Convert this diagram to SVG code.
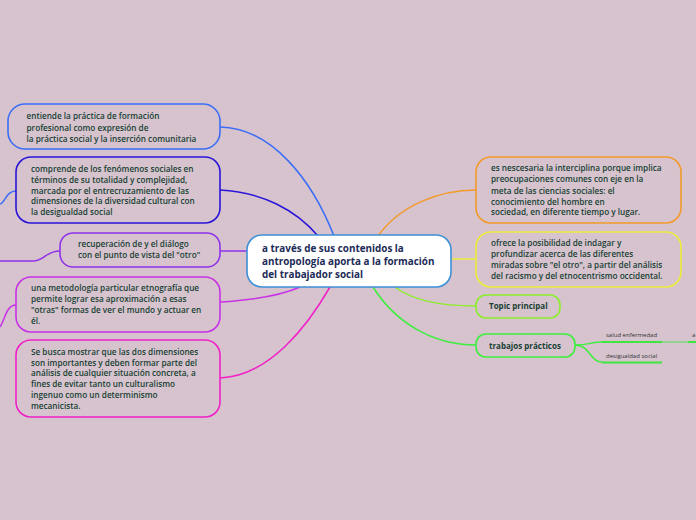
<svg xmlns="http://www.w3.org/2000/svg" width="696" height="520" viewBox="0 0 696 520">
<style>
.bg{fill:#d6c3ce}
.box{fill:none;stroke-width:1.6}
.t{font-family:"Open Sans","Noto Sans",sans-serif;font-weight:600;font-size:8.2px;fill:#163f32}
.b{font-weight:700;font-size:8px}
.c{font-family:"Open Sans","Noto Sans",sans-serif;font-weight:700;font-size:9.9px;fill:#1c2b57}
.s{font-family:"Open Sans","Noto Sans",sans-serif;font-size:6px;fill:#333}
.ln{fill:none;stroke-width:1.5}
</style>
<rect class="bg" x="0" y="0" width="696" height="520"/>
<g id="connectors">
<path class="ln" stroke="#3d6ef5" d="M220,127 C272,128 312,180 334,236"/>
<path class="ln" stroke="#2b14d9" d="M220,190 C262,192 296,210 318,236"/>
<path class="ln" stroke="#9033e8" d="M220,251 L247,251"/>
<path class="ln" stroke="#c832e6" d="M220,302 C252,300 280,296 300,287"/>
<path class="ln" stroke="#f021c8" d="M220,378 C270,376 308,325 330,287"/>
<path class="ln" stroke="#f39a2b" d="M378,236 C400,205 440,190 476,190"/>
<path class="ln" stroke="#ecec3a" d="M451,259 L476,259"/>
<path class="ln" stroke="#8cee2a" d="M395,287 C412,300 442,306 476,306"/>
<path class="ln" stroke="#3eee3e" d="M373,287 C395,322 432,345 476,345"/>
<path class="ln" stroke="#3eee3e" d="M575,345 C590,345 590,342 602,342"/>
<path class="ln" stroke="#3eee3e" d="M575,345 C590,345 590,362 602,362"/>
<path class="ln" stroke="#7fd67f" stroke-width="1" d="M662,342 L688,342"/>
<path class="ln" stroke="#3d6ef5" stroke-width="1" d="M16,191 C6,191 5,203 0,204"/>
<path class="ln" stroke="#9033e8" stroke-width="1" d="M0,261 L33,261 C45,261 45,251 60,251"/>
<path class="ln" stroke="#c832e6" stroke-width="1" d="M16,305 C6,305 5,320 0,327"/>
</g>
<g id="center">
<rect x="247" y="235" width="204" height="52" rx="15" fill="#ffffff" stroke="#3d8fd6" stroke-width="1.6"/>
<text class="c"><tspan x="262" y="252">a través de sus contenidos la</tspan><tspan x="262" y="265">antropología aporta a la formación</tspan><tspan x="262" y="277.5">del trabajador social</tspan></text>
</g>
<g id="n1">
<rect class="box" x="8" y="104" width="212" height="45" rx="17" stroke="#3d6ef5"/>
<text class="t"><tspan x="26.5" y="119">entiende la práctica de formación</tspan><tspan x="26.5" y="130.5">profesional como expresión de</tspan><tspan x="26.5" y="141.5">la práctica social y la inserción comunitaria</tspan></text>
</g>
<g id="n2">
<rect class="box" x="16" y="157" width="204" height="66" rx="15" stroke="#2b14d9"/>
<text class="t"><tspan x="31" y="172">comprende de los fenómenos sociales en</tspan><tspan x="31" y="183">términos de su totalidad y complejidad,</tspan><tspan x="31" y="193.5">marcada por el entrecruzamiento de las</tspan><tspan x="31" y="204">dimensiones de la diversidad cultural con</tspan><tspan x="31" y="214.5">la desigualdad social</tspan></text>
</g>
<g id="n3">
<rect class="box" x="60" y="233" width="160" height="34" rx="13" stroke="#9033e8"/>
<text class="t"><tspan x="78" y="247">recuperación de y el diálogo</tspan><tspan x="78" y="258">con el punto de vista del "otro"</tspan></text>
</g>
<g id="n4">
<rect class="box" x="16" y="277" width="204" height="55" rx="15" stroke="#c832e6"/>
<text class="t"><tspan x="31" y="290.5">una metodología particular etnografía que</tspan><tspan x="31" y="301.5">permite lograr esa aproximación a esas</tspan><tspan x="31" y="312.5">"otras" formas de ver el mundo y actuar en</tspan><tspan x="31" y="323.5">él.</tspan></text>
</g>
<g id="n5">
<rect class="box" x="16" y="340" width="204" height="77" rx="15" stroke="#f021c8"/>
<text class="t"><tspan x="31" y="354.5">Se busca mostrar que las dos dimensiones</tspan><tspan x="31" y="365.5">son importantes y deben formar parte del</tspan><tspan x="31" y="376">análisis de cualquier situación concreta, a</tspan><tspan x="31" y="387">fines de evitar tanto un culturalismo</tspan><tspan x="31" y="398">ingenuo como un determinismo</tspan><tspan x="31" y="409">mecanicista.</tspan></text>
</g>
<g id="n6">
<rect class="box" x="476" y="157" width="205" height="66" rx="15" stroke="#f39a2b"/>
<text class="t"><tspan x="491" y="171">es nescesaria la interciplina porque implica</tspan><tspan x="491" y="182">preocupaciones comunes con  eje en la</tspan><tspan x="491" y="193.5">meta de las ciencias sociales: el</tspan><tspan x="491" y="204.5">conocimiento del hombre en</tspan><tspan x="491" y="215">sociedad, en diferente tiempo y lugar.</tspan></text>
</g>
<g id="n7">
<rect class="box" x="476" y="232" width="205" height="55" rx="15" stroke="#ecec3a"/>
<text class="t"><tspan x="491" y="246">ofrece la posibilidad de indagar y</tspan><tspan x="491" y="257">profundizar acerca de las diferentes</tspan><tspan x="491" y="268">miradas sobre "el otro", a partir del análisis</tspan><tspan x="491" y="279">del racismo y del etnocentrismo occidental.</tspan></text>
</g>
<g id="n8">
<rect class="box" x="476" y="295" width="84" height="23" rx="10" stroke="#8cee2a"/>
<text class="t b"><tspan x="489" y="309">Topic principal</tspan></text>
</g>
<g id="n9">
<rect class="box" x="476" y="334" width="99" height="23" rx="10" stroke="#3eee3e"/>
<text class="t b"><tspan x="489" y="348.5">trabajos prácticos</tspan></text>
</g>
<g id="n10">
<text class="s" x="606" y="337">salud enfermedad</text>
<line x1="602" y1="342" x2="662" y2="342" stroke="#3ee63e" stroke-width="2"/>
</g>
<g id="n11">
<text class="s" x="606" y="357.5">desigualdad social</text>
<line x1="602" y1="362.5" x2="662" y2="362.5" stroke="#3ee63e" stroke-width="2"/>
</g>
<g id="n12">
<text class="s" x="692" y="337">a</text>
<line x1="688" y1="342" x2="696" y2="342" stroke="#3ee63e" stroke-width="2"/>
</g>
</svg>
